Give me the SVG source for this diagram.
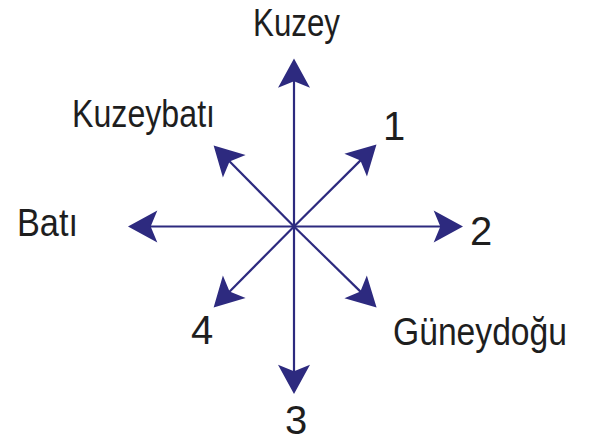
<svg xmlns="http://www.w3.org/2000/svg" width="589" height="445" viewBox="0 0 589 445">
<style>
.lbl{font-family:"Liberation Sans",Arial,sans-serif;font-size:38px;fill:#1e1e1e}
.num{font-family:"Liberation Sans",Arial,sans-serif;font-size:40px;fill:#1e1e1e}
.ax{stroke:#2d2a7f;stroke-width:2.2;fill:none;marker-end:url(#ah)}
</style>
<defs>
<marker id="ah" markerUnits="userSpaceOnUse" orient="auto" refX="0" refY="0" markerWidth="40" markerHeight="40" viewBox="-10 -15 30 30" overflow="visible">
<path d="M15,0 L-7,-12 L-2,0 L-7,12 Z" fill="#2d2a7f"/>
</marker>
</defs>
<rect width="589" height="445" fill="#ffffff"/>
<g id="connectors">
<line class="ax" x1="294" y1="226.5" x2="294" y2="78.5"/>
<line class="ax" x1="294" y1="226.5" x2="294" y2="374"/>
<line class="ax" x1="294" y1="226.5" x2="148" y2="226.5"/>
<line class="ax" x1="294" y1="226.5" x2="443" y2="226.5"/>
<line class="ax" x1="294" y1="226.5" x2="362.3" y2="158.6"/>
<line class="ax" x1="294" y1="226.5" x2="227.7" y2="159.6"/>
<line class="ax" x1="294" y1="226.5" x2="227.7" y2="293.4"/>
<line class="ax" x1="294" y1="226.5" x2="362.3" y2="293.4"/>
</g>
<g id="kuzey"><text class="lbl" x="253" y="36" textLength="87" lengthAdjust="spacingAndGlyphs">Kuzey</text></g>
<g id="kuzeybati"><text class="lbl" x="72" y="127" textLength="143" lengthAdjust="spacingAndGlyphs">Kuzeybatı</text></g>
<g id="bati"><text class="lbl" x="17" y="236" textLength="61" lengthAdjust="spacingAndGlyphs">Batı</text></g>
<g id="guneydogu"><text class="lbl" x="393" y="345" textLength="174" lengthAdjust="spacingAndGlyphs">Güneydoğu</text></g>
<g id="n1"><text class="num" x="383" y="140">1</text></g>
<g id="n2"><text class="num" x="470" y="245">2</text></g>
<g id="n3"><text class="num" x="285" y="434">3</text></g>
<g id="n4"><text class="num" x="191" y="344">4</text></g>
</svg>
